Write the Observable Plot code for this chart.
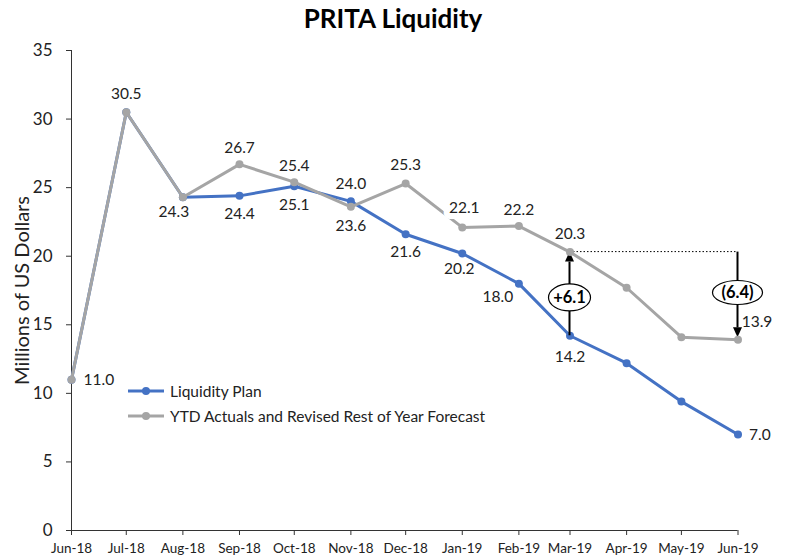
<!DOCTYPE html>
<html><head><meta charset="utf-8">
<script src="https://cdn.jsdelivr.net/npm/d3@7"></script>
<script src="https://cdn.jsdelivr.net/npm/@observablehq/plot@0.6"></script>
<style>
body{margin:0;background:#fff;font-family:Lato,"Open Sans",sans-serif;}
#wrap{position:relative;width:786px;height:560px;overflow:hidden;}
#title{height:38px;line-height:36px;text-align:center;font-weight:bold;font-size:26px;color:#000;}
.legend{position:absolute;left:128px;font-size:15.5px;color:#222;display:flex;align-items:center;white-space:nowrap;}
.legend svg{margin-right:6px;}
</style></head><body>
<div id="wrap">
<div id="title">PRITA Liquidity</div>
<div id="chart"></div>
</div>
<script>
// ---- data ----
const months = ["2018-06-01","2018-07-01","2018-08-01","2018-09-01","2018-10-01","2018-11-01","2018-12-01",
                "2019-01-01","2019-02-01","2019-03-01","2019-04-01","2019-05-01","2019-06-01"];
const planValues     = [11.0, 30.5, 24.3, 24.4, 25.1, 24.0, 21.6, 20.2, 18.0, 14.2, 12.2, 9.4, 7.0];
const forecastValues = [11.0, 30.5, 24.3, 26.7, 25.4, 23.6, 25.3, 22.1, 22.2, 20.3, 17.7, 14.1, 13.9];
const seriesNames = ["Liquidity Plan", "YTD Actuals and Revised Rest of Year Forecast"];
const yTicks = [0, 5, 10, 15, 20, 25, 30, 35];
const annotationMonths = ["2019-03-01", "2019-06-01"];
const annotationFrom = [14.2, 20.3];
const annotationTo = [20.3, 13.9];
const annotationLabels = ["+6.1", "(6.4)"];

const dates = months.map(d => new Date(d + "T00:00:00Z"));
const plan = dates.map((d, i) => ({date: d, value: planValues[i]}));
const forecast = dates.map((d, i) => ({date: d, value: forecastValues[i]}));

const BLUE = "#4472C4", GRAY = "#A5A5A5", TXT = "#222";

// label placement (index -> [dx, dy, anchor, halo])
const forecastLabelPos = {0:[12,0,"start"],1:[0,-18],2:[-9,15],3:[0,-16],4:[0,-16],5:[0,19],6:[0,-18],7:[2,-19,"middle",true],8:[0,-16],9:[0,-18],12:[19,-18]};
const planLabelPos = {3:[0,18],4:[0,19],5:[0,-17],6:[0,18],7:[-3,16],8:[-21,13],9:[0,21],12:[11,1,"start"]};

function labelMarks(data, pos) {
  return Object.entries(pos).map(([i, p]) => Plot.text([data[+i]], {
    x: "date", y: "value", text: d => d.value.toFixed(1),
    dx: p[0], dy: p[1], textAnchor: p[2] || "middle",
    fill: TXT, fontSize: 15.5,
    ...(p[3] ? {stroke: "white", strokeWidth: 12, strokeLinejoin: "round"} : {})
  }));
}

const annotations = annotationMonths.map((m, i) => ({
  date: new Date(m + "T00:00:00Z"), from: annotationFrom[i], to: annotationTo[i], label: annotationLabels[i]
}));

function annotationRender(index, scales) {
  const g = d3.create("svg:g");
  const top = scales.y(annotations[0].to);
  g.append("line")
    .attr("x1", scales.x(annotations[0].date)).attr("x2", scales.x(annotations[1].date))
    .attr("y1", top).attr("y2", top)
    .attr("stroke", "#000").attr("stroke-width", 1).attr("stroke-dasharray", "1.5,2");
  const ell = [{rx: 21, ry: 13.5, dy: 4}, {rx: 25, ry: 12, dy: -3}];
  annotations.forEach((a, i) => {
    const x = scales.x(a.date);
    const y0 = scales.y(a.from), y1 = scales.y(a.to);
    const dir = Math.sign(y1 - y0);
    const tip = i === 1 ? y1 - 2 : y1;
    const head = 10;
    g.append("line").attr("x1", x).attr("x2", x).attr("y1", y0).attr("y2", tip - dir * head)
      .attr("stroke", "#000").attr("stroke-width", 2);
    g.append("path")
      .attr("d", `M${x},${tip}L${x - 4.5},${tip - dir * head}L${x + 4.5},${tip - dir * head}Z`)
      .attr("fill", "#000");
    const cy = (y0 + y1) / 2 + ell[i].dy;
    g.append("ellipse").attr("cx", x).attr("cy", cy).attr("rx", ell[i].rx).attr("ry", ell[i].ry)
      .attr("fill", "white").attr("stroke", "#000").attr("stroke-width", 1.2);
    g.append("text").attr("x", x).attr("y", cy).attr("dy", "0.35em")
      .attr("text-anchor", "middle").attr("font-weight", "bold").attr("font-size", 16.5)
      .attr("fill", "#000").text(a.label);
  });
  return g.node();
}

const chart = Plot.plot({
  width: 786, height: 522,
  marginTop: 12, marginBottom: 30, marginLeft: 71, marginRight: 48.5,
  style: {fontFamily: "Lato, 'Open Sans', sans-serif", color: TXT, background: "white"},
  x: {type: "utc", domain: [dates[0], dates[dates.length - 1]]},
  y: {domain: [0, 35]},
  marks: [
    Plot.axisY({ticks: yTicks, tickSize: 5, tickPadding: 14, fontSize: 17, label: null, stroke: "#333", fill: TXT}),
    Plot.axisX({ticks: dates, tickFormat: d3.utcFormat("%b-%y"), tickSize: 5, tickPadding: 8, fontSize: 13.5, label: null, stroke: "#333", fill: TXT}),
    Plot.ruleY([0], {stroke: "#333"}),
    Plot.ruleX([dates[0]], {stroke: "#333"}),
    Plot.text(["Millions of US Dollars"], {frameAnchor: "left", textAnchor: "middle", rotate: -90, dx: -49, fontSize: 20, fill: TXT}),
    Plot.line(plan, {x: "date", y: "value", stroke: BLUE, strokeWidth: 3}),
    Plot.dot(plan, {x: "date", y: "value", fill: BLUE, r: 4}),
    annotationRender,
    Plot.line(forecast, {x: "date", y: "value", stroke: GRAY, strokeWidth: 3}),
    Plot.dot(forecast, {x: "date", y: "value", fill: GRAY, r: 4}),
    ...labelMarks(plan, planLabelPos),
    ...labelMarks(forecast, forecastLabelPos)
  ]
});
document.getElementById("chart").appendChild(chart);

// legend
const wrap = document.getElementById("wrap");
[[BLUE, 382], [GRAY, 407]].forEach(([c, top], i) => {
  const div = document.createElement("div");
  div.className = "legend";
  div.style.top = top + "px";
  div.innerHTML = `<svg width="36" height="18"><line x1="0" x2="36" y1="9" y2="9" stroke="${c}" stroke-width="3"/><circle cx="18" cy="9" r="4" fill="${c}"/></svg><span>${seriesNames[i]}</span>`;
  wrap.appendChild(div);
});
</script>
</body></html>
